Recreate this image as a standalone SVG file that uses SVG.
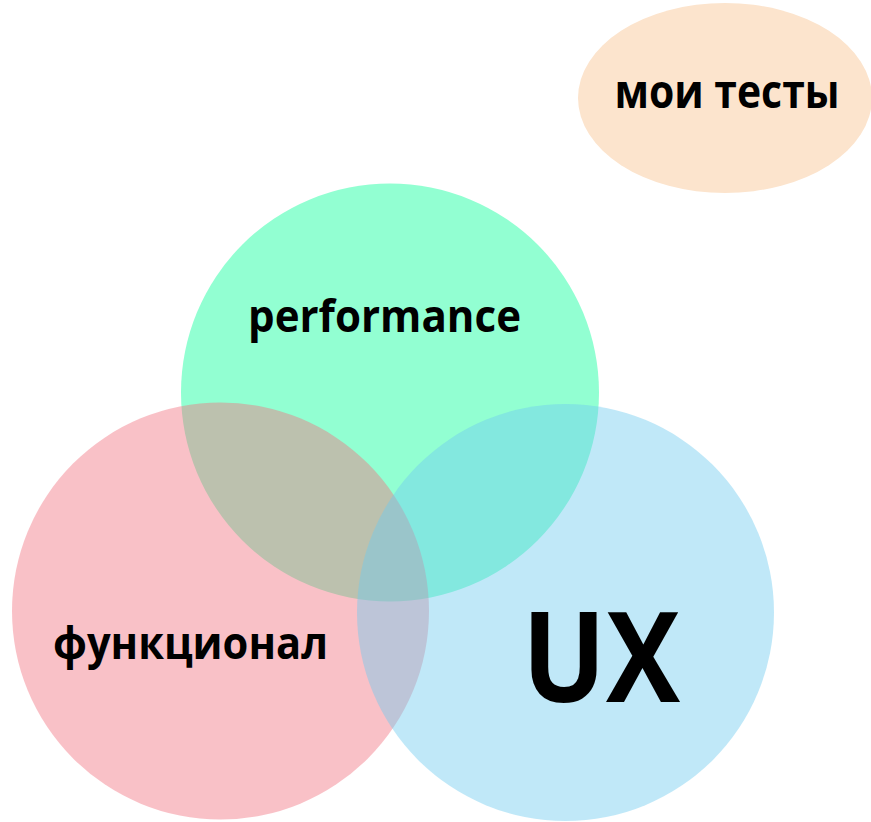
<svg xmlns="http://www.w3.org/2000/svg" width="871" height="822" viewBox="0 0 871 822">
<style>
.lbl{font-family:"Open Sans","Liberation Sans",sans-serif;font-weight:bold;fill:#000;}
</style>
<rect width="871" height="822" fill="#fff"/>
<g id="node-moi-testy">
<ellipse cx="725" cy="98" rx="147" ry="95" fill="#FCE4CD"/>
<text class="lbl" x="727" y="108" font-size="46" text-anchor="middle" textLength="225" lengthAdjust="spacingAndGlyphs">мои тесты</text>
</g>
<g id="node-performance">
<circle cx="390" cy="392.5" r="209" fill="#92FFD2"/>
</g>
<g id="node-funkcional">
<circle cx="220.5" cy="611" r="208.5" fill="#F17280" fill-opacity="0.44"/>
</g>
<g id="node-ux">
<circle cx="565.5" cy="612.5" r="208.5" fill="#70CBEF" fill-opacity="0.44"/>
</g>
<g id="labels">
<text class="lbl" x="384.5" y="332" font-size="44" text-anchor="middle" textLength="273" lengthAdjust="spacingAndGlyphs">performance</text>
<text class="lbl" x="190.5" y="659" font-size="44" text-anchor="middle" textLength="275" lengthAdjust="spacingAndGlyphs">функционал</text>
<text class="lbl" x="601" y="702" font-size="125" text-anchor="middle" textLength="158" lengthAdjust="spacingAndGlyphs">UX</text>
</g>
<g id="connectors"/>
</svg>
